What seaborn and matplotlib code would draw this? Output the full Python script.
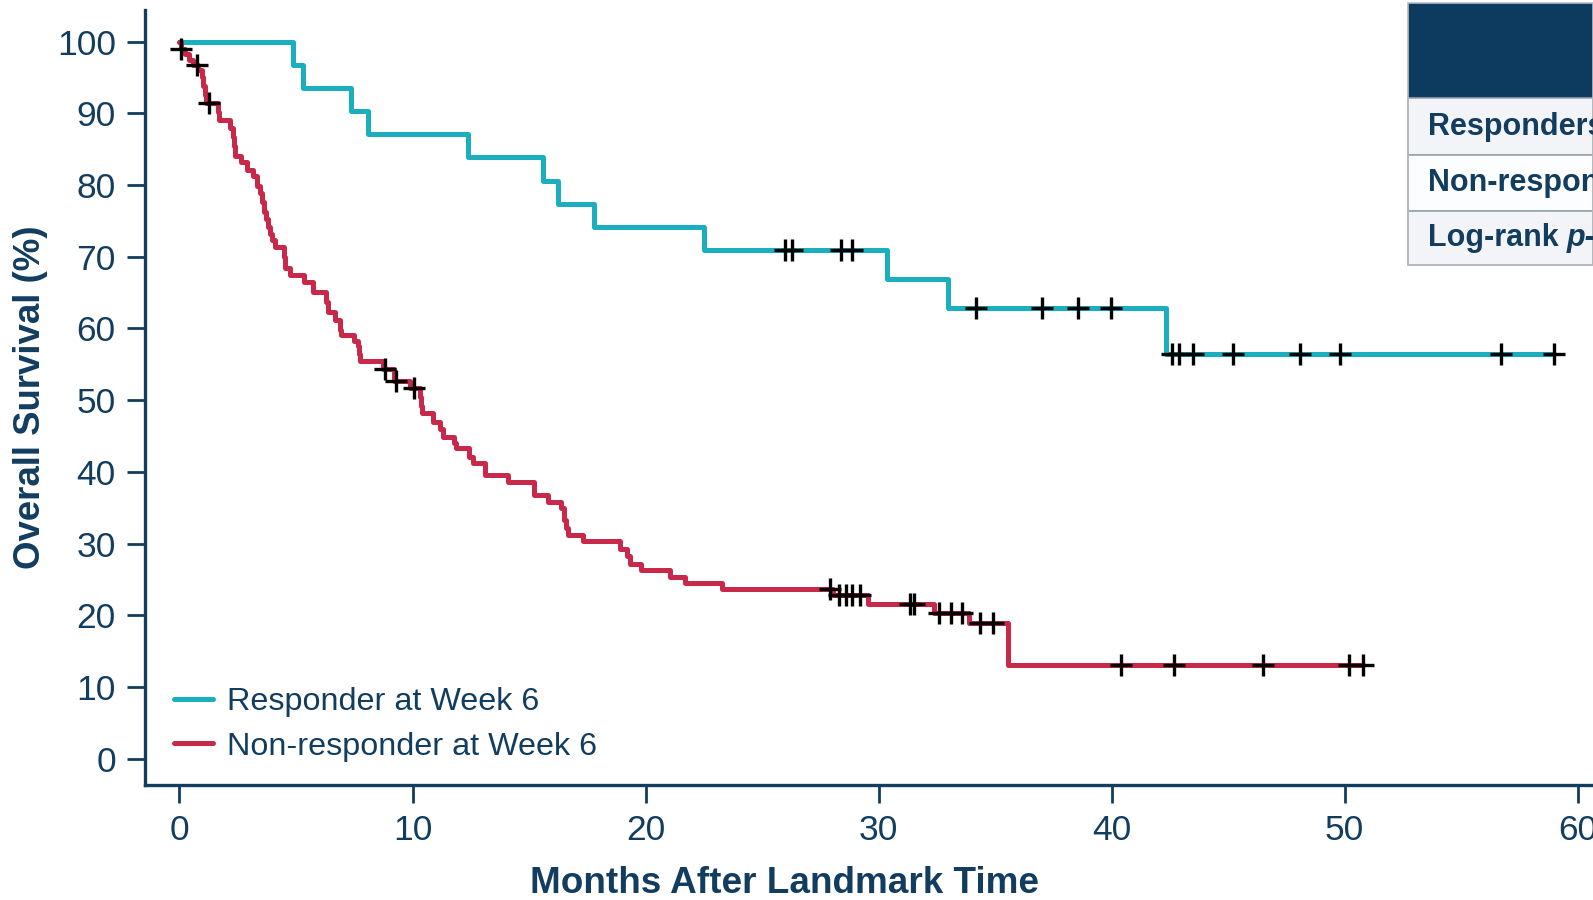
import numpy as np
import pandas as pd
import seaborn as sns
import matplotlib.pyplot as plt
from matplotlib.patches import Rectangle
from matplotlib.lines import Line2D

# --- data (months, survival %) ---
resp_time = [4.85, 5.3, 7.35, 8.1, 12.4, 15.6, 16.25, 17.8, 22.5, 30.35, 33.0, 42.35]
resp_surv = [96.8, 93.5, 90.3, 87.1, 83.9, 80.6, 77.4, 74.2, 71.0, 66.9, 62.8, 56.5]
resp_cens = [26.0, 26.3, 28.4, 28.85, 34.2, 37.0, 38.55, 39.97, 42.6, 42.9, 43.5,
             45.2, 48.1, 49.8, 56.7, 59.0]

nonr_time = [0.05, 0.25, 0.4, 0.6, 0.8, 0.95, 1.02, 1.09, 1.15, 1.67, 1.7, 2.17,
             2.3, 2.35, 2.38, 2.65, 2.88, 3.17, 3.31, 3.45, 3.55, 3.62, 3.72, 3.81,
             3.9, 3.96, 4.1, 4.5, 4.53, 4.74, 5.36, 5.74, 6.3, 6.39, 6.67, 6.9,
             6.95, 7.5, 7.65, 7.7, 7.75, 8.75, 9.2, 9.9, 10.3, 10.35, 10.4, 10.87,
             11.2, 11.3, 11.77, 11.85, 12.42, 12.6, 13.09, 14.08, 15.23, 15.8,
             16.38, 16.5, 16.6, 16.67, 17.3, 18.9, 19.2, 19.35, 19.8, 21.05, 21.7,
             23.3, 28.05, 29.55, 32.4, 33.9, 35.55]
nonr_surv = [99.0, 98.2, 97.4, 96.8, 96.0, 95.1, 93.8, 92.6, 91.5, 90.2, 89.1, 87.9,
             86.7, 85.4, 84.0, 83.2, 82.1, 81.2, 79.8, 78.9, 77.6, 76.3, 75.2, 74.2,
             73.2, 72.3, 71.4, 69.9, 68.4, 67.5, 66.5, 65.1, 63.7, 62.3, 61.2, 59.8,
             59.1, 58.3, 57.5, 56.4, 55.4, 54.3, 52.6, 51.7, 50.4, 49.2, 48.2, 47.0,
             46.0, 44.9, 44.0, 43.3, 42.1, 41.2, 39.6, 38.6, 36.8, 35.8,
             34.9, 33.3, 32.2, 31.2, 30.3, 29.3, 28.2, 27.2, 26.3, 25.4, 24.5,
             23.6, 22.8, 21.6, 20.3, 18.9, 13.1]
nonr_cens = [0.08, 0.76, 1.26, 8.8, 9.3, 10.05, 27.9, 28.3, 28.6, 28.85, 29.2,
             31.35, 31.5, 32.6, 33.1, 33.6, 34.35, 34.9, 40.4, 42.7, 46.5, 50.2, 50.8]

groups = ["Responder at Week 6", "Non-responder at Week 6"]
xticks = [0, 10, 20, 30, 40, 50, 60]
yticks = [0, 10, 20, 30, 40, 50, 60, 70, 80, 90, 100]
table_rows = ["Responders", "Non-responders"]

TEAL = "#1AAEBE"
RED = "#C8294B"
NAVY = "#123D5F"


def step_frame(times, survs, cens, name):
    t = [0.0] + list(times) + [max(cens)]
    s = [100.0] + list(survs) + [survs[-1]]
    return pd.DataFrame({"month": t, "surv": s, "group": name})


def cens_frame(times, survs, cens, name):
    levels = np.array([100.0] + list(survs))
    idx = np.searchsorted(np.array(times), np.array(cens), side="right")
    return pd.DataFrame({"month": cens, "surv": levels[idx], "group": name})


curves = pd.concat([step_frame(resp_time, resp_surv, resp_cens, groups[0]),
                    step_frame(nonr_time, nonr_surv, nonr_cens, groups[1])])
marks = pd.concat([cens_frame(resp_time, resp_surv, resp_cens, groups[0]),
                   cens_frame(nonr_time, nonr_surv, nonr_cens, groups[1])])

sns.set_style("ticks")
plt.rcParams["font.family"] = ["Liberation Sans", "DejaVu Sans"]

fig = plt.figure(figsize=(15.93, 9), dpi=100)
ax = fig.add_axes([145 / 1593, 115 / 900, 1448 / 1593, 775 / 900])

sns.lineplot(data=curves, x="month", y="surv", hue="group",
             palette={groups[0]: TEAL, groups[1]: RED}, estimator=None, sort=False,
             drawstyle="steps-post", linewidth=3.6, legend=False, ax=ax)
sns.scatterplot(data=marks, x="month", y="surv", marker="+", s=230, color="black",
                linewidth=2.4, zorder=5, legend=False, ax=ax)

ax.set_xlim(-1.48, 60.66)
ax.set_ylim(-3.67, 104.4)
ax.set_xticks(xticks)
ax.set_yticks(yticks)
ax.tick_params(axis="both", length=13, width=2, color=NAVY, labelsize=25.5,
               labelcolor=NAVY, pad=8)
for side in ["top", "right"]:
    ax.spines[side].set_visible(False)
for side in ["left", "bottom"]:
    ax.spines[side].set_color(NAVY)
    ax.spines[side].set_linewidth(2.4)

ax.set_xlabel("Months After Landmark Time", fontsize=26.6, fontweight="bold", color=NAVY)
ax.xaxis.set_label_coords(0.4416, -0.104)
ax.set_ylabel("Overall Survival (%)", fontsize=26.4, fontweight="bold", color=NAVY)
ax.yaxis.set_label_coords(-0.079, 0.5)
ax.yaxis.label.set_va("center")

handles = [Line2D([], [], color=TEAL, lw=3.6), Line2D([], [], color=RED, lw=3.6)]
leg = ax.legend(handles, groups, loc="lower left", bbox_to_anchor=(0.02, 0.03),
                frameon=False, fontsize=23.3, handlelength=1.2, handletextpad=0.45,
                borderpad=0, borderaxespad=0, labelspacing=0.45)
for txt in leg.get_texts():
    txt.set_color(NAVY)

# partially visible summary table at top right (figure pixel coords)
W, H = 1593, 900
tx0 = 1408
def fy(y):
    return 1 - y / H
fig.patches.append(Rectangle((tx0 / W, fy(98)), (W - tx0) / W, 95 / H,
                             transform=fig.transFigure, facecolor="#0C3B5F",
                             edgecolor="none", zorder=10))
row_edges = [98, 155, 211, 265]
row_fill = ["#F2F4F7", "#FCFDFE", "#F2F4F7"]
for i in range(3):
    fig.patches.append(Rectangle((tx0 / W, fy(row_edges[i + 1])), (W - tx0) / W,
                                 (row_edges[i + 1] - row_edges[i]) / H,
                                 transform=fig.transFigure, facecolor=row_fill[i],
                                 edgecolor="#9AA2AC", linewidth=1.2, zorder=10))
fig.patches.append(Rectangle((tx0 / W, fy(265)), (W - tx0) / W, 262 / H,
                             transform=fig.transFigure, facecolor="none",
                             edgecolor="#B5BCC4", linewidth=1.2, zorder=11))
for i, lab in enumerate(table_rows):
    fig.text(1428 / W, fy((row_edges[i] + row_edges[i + 1]) / 2), lab,
             fontsize=22, fontweight="bold", color=NAVY, va="center", zorder=12)
t1 = fig.text(1428 / W, fy((row_edges[2] + row_edges[3]) / 2), "Log-rank ",
              fontsize=22, fontweight="bold", color=NAVY, va="center", zorder=12)
r = fig.canvas.get_renderer()
bb = t1.get_window_extent(r)
fig.text(bb.x1 / W, fy((row_edges[2] + row_edges[3]) / 2), "p-value",
         fontsize=22, fontweight="bold", fontstyle="italic", color=NAVY,
         va="center", zorder=12)

fig.savefig("out.png", dpi=100)
plt.close(fig)
